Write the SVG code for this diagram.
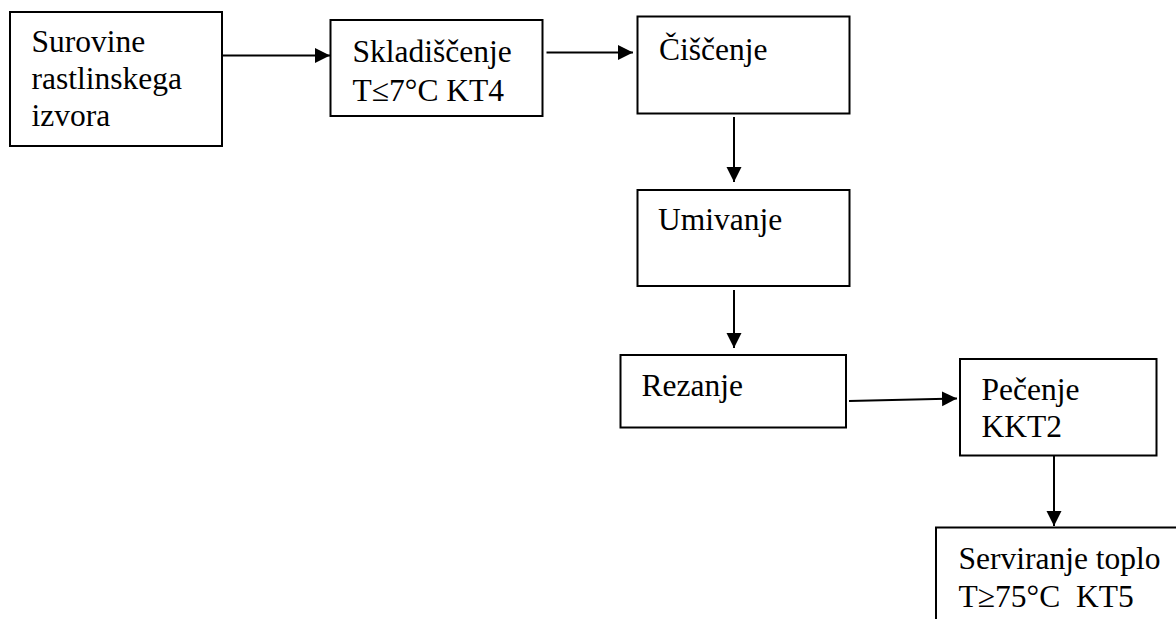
<svg xmlns="http://www.w3.org/2000/svg" width="1176" height="619" viewBox="0 0 1176 619">
<defs>
<style>
.box{fill:#fff;stroke:#000;stroke-width:2}
.t{font-family:'Liberation Serif','Times New Roman',Times,'DejaVu Serif',serif;font-size:31.5px;fill:#000;white-space:pre}
.c{fill:none;stroke:#000;stroke-width:2}
</style>
<marker id="ah" markerUnits="userSpaceOnUse" markerWidth="16" markerHeight="16" refX="15" refY="7.5" orient="auto">
<path d="M0,0 L15,7.5 L0,15 z" fill="#000"/>
</marker>
</defs>
<rect width="1176" height="619" fill="#fff"/>
<g id="connectors">
<line class="c" x1="222" y1="55.5" x2="330" y2="55.5" marker-end="url(#ah)"/>
<line class="c" x1="546.5" y1="52.5" x2="633" y2="52.5" marker-end="url(#ah)"/>
<line class="c" x1="734" y1="117" x2="734" y2="182" marker-end="url(#ah)"/>
<line class="c" x1="734" y1="290" x2="734" y2="348" marker-end="url(#ah)"/>
<line class="c" x1="849" y1="401" x2="957" y2="398.5" marker-end="url(#ah)"/>
<line class="c" x1="1054" y1="456" x2="1054" y2="526" marker-end="url(#ah)"/>
</g>
<g id="surovine">
<rect class="box" x="10" y="12" width="212" height="134"/>
<text class="t" font-family="Liberation Serif, serif" x="31.5" y="52">Surovine</text>
<text class="t" font-family="Liberation Serif, serif" x="31.5" y="89">rastlinskega</text>
<text class="t" font-family="Liberation Serif, serif" x="31.5" y="126">izvora</text>
</g>
<g id="skladiscenje">
<rect class="box" x="330.5" y="20" width="212" height="96"/>
<text class="t" x="352.5" y="61.5">Skladiščenje</text>
<text class="t" x="352.5" y="100.5">T≤7°C KT4</text>
</g>
<g id="ciscenje">
<rect class="box" x="637.5" y="16.5" width="212" height="97"/>
<text class="t" x="659" y="59.5">Čiščenje</text>
</g>
<g id="umivanje">
<rect class="box" x="637.5" y="190" width="212" height="96"/>
<text class="t" x="658" y="230">Umivanje</text>
</g>
<g id="rezanje">
<rect class="box" x="620.5" y="355" width="225.5" height="72.5"/>
<text class="t" x="641.5" y="395.5">Rezanje</text>
</g>
<g id="pecenje">
<rect class="box" x="960" y="359" width="196.5" height="96.5"/>
<text class="t" x="981.5" y="400">Pečenje</text>
<text class="t" x="981.5" y="437">KKT2</text>
</g>
<g id="serviranje">
<rect class="box" x="936" y="527.5" width="300" height="200"/>
<text class="t" x="958.5" y="568.5">Serviranje toplo</text>
<text class="t" x="958.5" y="606.5">T≥75°C  KT5</text>
</g>
</svg>
